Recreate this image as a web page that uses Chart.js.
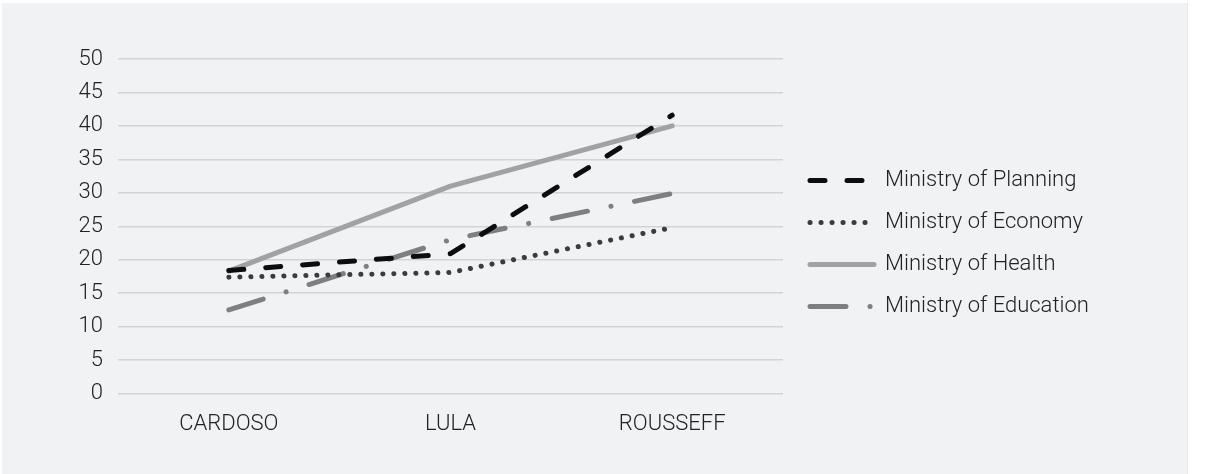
<!DOCTYPE html>
<html>
<head>
<meta charset="utf-8">
<script src="https://cdn.jsdelivr.net/npm/chart.js@4.4.1/dist/chart.umd.min.js"></script>
<style>
  html, body { margin: 0; padding: 0; background: #ffffff; }
  #panel {
    position: absolute; left: 2px; top: 3px; width: 1185px; height: 471px;
    background: #f1f2f4; border-right: 1px solid #e4e5e7;
  }
  canvas { position: absolute; left: 0; top: 0; }
</style>
</head>
<body>
<div id="panel"></div>
<canvas id="grafico" width="1210" height="474"></canvas>
<script>
const presidentes = ["CARDOSO", "LULA", "ROUSSEFF"];
const planejamento = [18.4, 20.9, 41.6];
const economia = [17.4, 18.1, 24.8];
const saude = [18.3, 31.0, 40.0];
const educacao = [12.5, 23.0, 29.9];
const nomesSeries = ["Ministry of Planning", "Ministry of Economy", "Ministry of Health", "Ministry of Education"];

const fonte = "Roboto, 'Liberation Sans', sans-serif";
const corTexto = "#222222";

function serie(label, data, color, dash, width) {
  return {
    label: label,
    data: data,
    borderColor: color,
    backgroundColor: color,
    borderWidth: width,
    borderDash: dash,
    borderCapStyle: "round",
    borderJoinStyle: "round",
    pointRadius: 0,
    pointHoverRadius: 0,
    tension: 0,
    fill: false
  };
}

// la leyenda necesita mas ancho del que Chart.js le da a las cajas verticales
const ajusteLeyenda = {
  id: "ajusteLeyenda",
  beforeLayout(c) {
    const lg = c.legend;
    if (lg && !lg._parcheado) {
      const fitOriginal = lg.fit;
      lg.fit = function () {
        fitOriginal.call(this);
        this.width = 1210 - 783;
      };
      lg._parcheado = true;
    }
  },
  afterLayout(c) {
    if (c.legend) {
      c.legend.left += 7;
      c.legend.top -= 10;
      c.legend.bottom -= 10;
    }
  }
};

const chart = new Chart(document.getElementById("grafico"), {
  type: "line",
  data: {
    labels: presidentes,
    datasets: [
      serie(nomesSeries[0], planejamento, "#0d0d0d", [15, 22], 5),
      serie(nomesSeries[1], economia, "#3c3c3c", [0.1, 10.9], 5),
      serie(nomesSeries[2], saude, "#a2a2a2", [], 5),
      serie(nomesSeries[3], educacao, "#7f7f7f", [36, 24, 0.1, 24], 5)
    ]
  },
  options: {
    responsive: false,
    animation: false,
    devicePixelRatio: 1,
    layout: { padding: { left: 0, right: 0, top: 59, bottom: 26 } },
    scales: {
      x: {
        offset: true,
        grid: { display: false },
        border: { display: false },
        ticks: { color: corTexto, padding: 10, font: { family: fonte, size: 22, weight: 300 } }
      },
      y: {
        min: 0,
        max: 50,
        afterFit: function (s) { s.width = 118; },
        ticks: { stepSize: 5, color: corTexto, padding: 15, font: { family: fonte, size: 22, weight: 300 } },
        grid: { color: "#d2d3d5", lineWidth: 1.5, drawTicks: false },
        border: { display: false }
      }
    },
    plugins: {
      tooltip: { enabled: false },
      legend: {
        position: "right",
        align: "center",
        labels: {
          usePointStyle: true,
          pointStyle: "line",
          pointStyleWidth: 64,
          boxWidth: 64,
          padding: 20,
          color: corTexto,
          font: { family: fonte, size: 22, weight: 300 },
          generateLabels: function (c) {
            const items = Chart.defaults.plugins.legend.labels.generateLabels(c);
            items.forEach(function (it) {
              const ds = c.data.datasets[it.datasetIndex];
              it.lineDash = ds.borderDash;
              it.lineCap = "round";
              it.lineWidth = ds.borderWidth;
              it.strokeStyle = ds.borderColor;
              it.pointStyle = "line";
            });
            return items;
          }
        }
      }
    }
  },
  plugins: [ajusteLeyenda]
});
</script>
</body>
</html>
